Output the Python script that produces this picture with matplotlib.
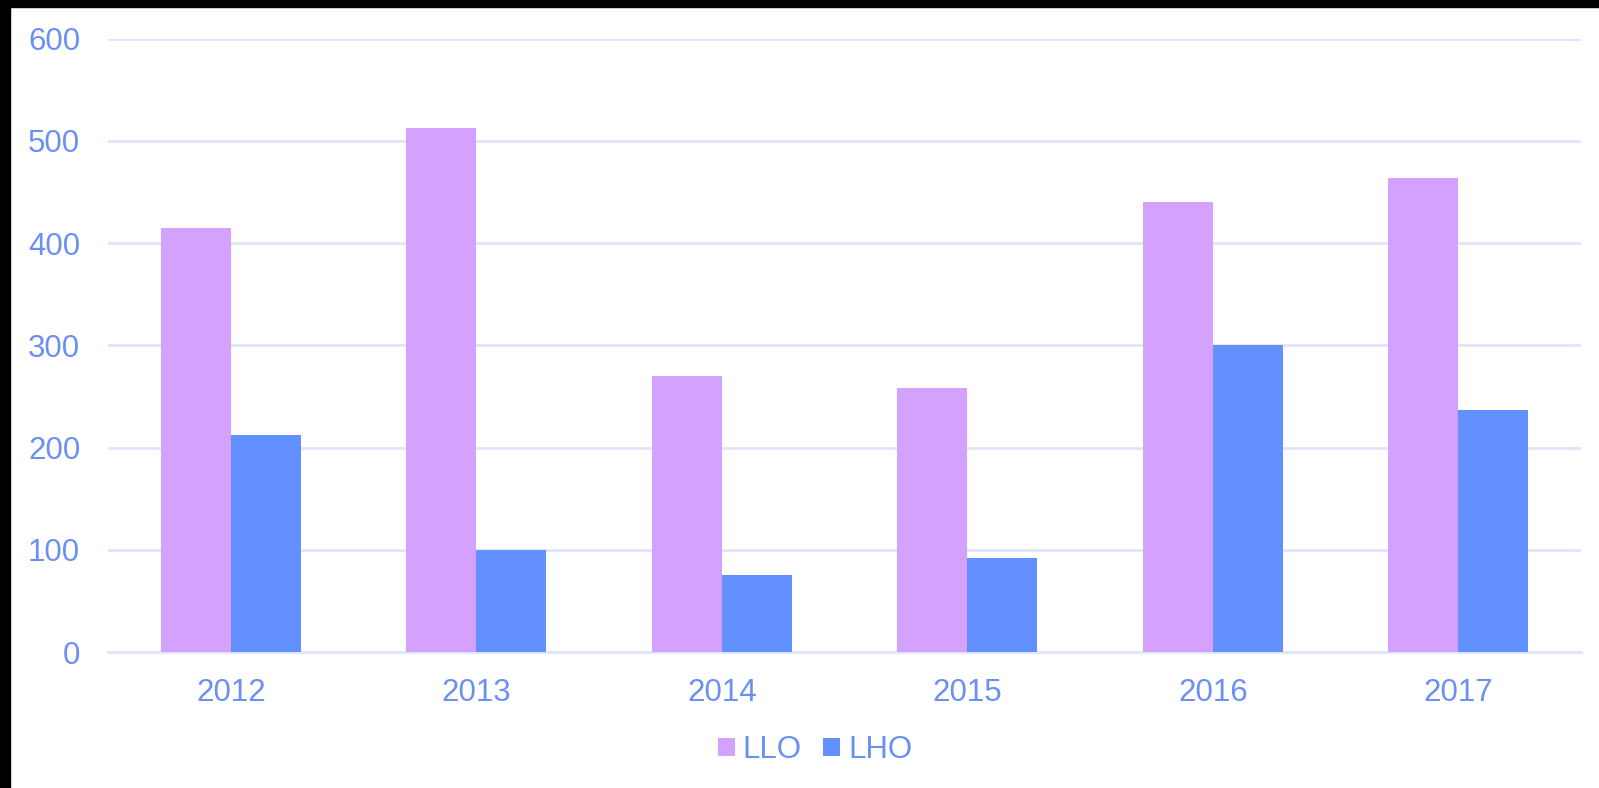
import matplotlib
matplotlib.use("Agg")
import matplotlib.pyplot as plt
import numpy as np
from matplotlib.patches import Rectangle

years = ["2012", "2013", "2014", "2015", "2016", "2017"]
llo = [415, 513, 270, 258, 440, 464]
lho = [212, 100, 75, 92, 300, 237]

llo_color = "#d5a1ff"
lho_color = "#6390ff"
text_color = "#6a8ff5"
grid_color = "#dfe6fb"

plt.rcParams["font.family"] = ["Liberation Sans", "DejaVu Sans"]

W, H = 1599, 788
fig = plt.figure(figsize=(W / 100, H / 100), dpi=100)
ax = fig.add_axes([108 / W, 1 - 652 / H, (1581 - 108) / W, (652 - 38.7) / H])

x = np.arange(len(years))
bw = 0.285
ax.bar(x - bw / 2, llo, bw, color=llo_color, label="LLO", zorder=3)
ax.bar(x + bw / 2, lho, bw, color=lho_color, label="LHO", zorder=3)

ax.set_xlim(-0.5, len(years) - 0.5)
ax.set_ylim(0, 600)
ax.set_yticks(range(0, 601, 100))
ax.set_xticks(x)
ax.set_xticklabels(years)
ax.tick_params(axis="both", length=0, labelsize=22.5, labelcolor=text_color)
ax.tick_params(axis="y", pad=20)
ax.tick_params(axis="x", pad=18.5)
ax.grid(axis="y", color=grid_color, linewidth=2, zorder=0)
for s in ["top", "right", "left"]:
    ax.spines[s].set_visible(False)
ax.spines["bottom"].set_color(grid_color)
ax.spines["bottom"].set_linewidth(2)

leg = fig.legend(loc="center", bbox_to_anchor=(815 / W, 1 - 750 / H), ncol=2,
                 frameon=False, fontsize=22.5, handlelength=0.54, handleheight=0.54,
                 handletextpad=0.25, columnspacing=0.7, labelcolor=text_color)

# black edge strips on top and left
fig.patches.append(Rectangle((0, 1 - 7 / H), 1, 7 / H, transform=fig.transFigure,
                             color="black", zorder=10))
fig.patches.append(Rectangle((0, 0), 10 / W, 1, transform=fig.transFigure,
                             color="black", zorder=10))

fig.savefig("out.png", dpi=100)
